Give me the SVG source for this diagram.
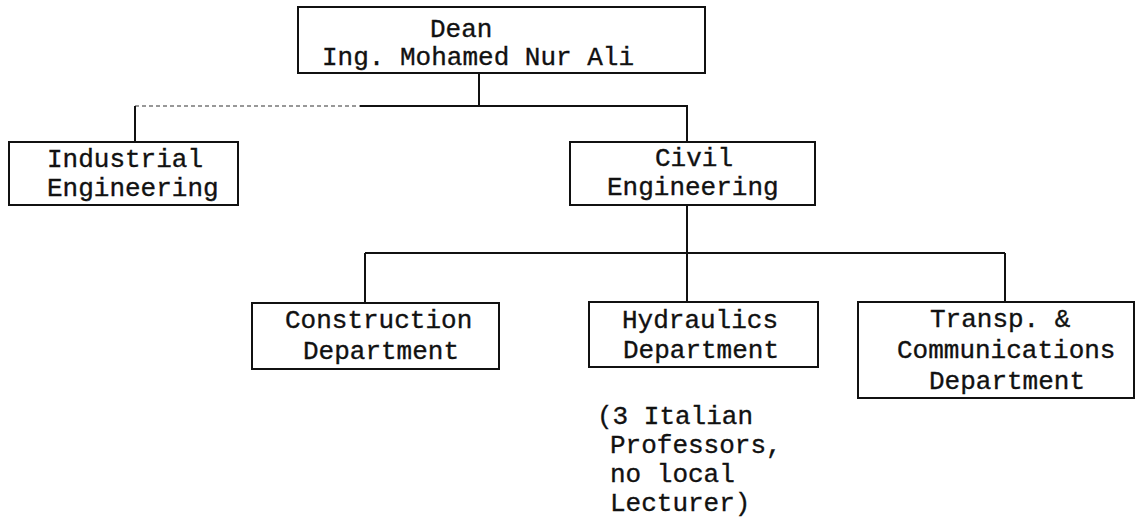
<svg xmlns="http://www.w3.org/2000/svg" width="1136" height="525" viewBox="0 0 1136 525">
<style>
.box{fill:#fff;stroke:#111;stroke-width:2}
.ln{fill:none;stroke:#111;stroke-width:2}
.faint{fill:none;stroke:#777;stroke-width:1.5;stroke-dasharray:4 3}
text{font-family:"Liberation Mono","Courier New",monospace;font-size:26px;fill:#111;stroke:#111;stroke-width:0.35}
</style>
<rect width="1136" height="525" fill="#fff"/>
<g id="connectors">
<path class="ln" d="M479 73V106"/>
<path class="faint" d="M135 106H360"/>
<path class="ln" d="M360 106H687V142"/>
<path class="ln" d="M135 106V142"/>
<path class="ln" d="M687 205V253"/>
<path class="ln" d="M365 253H1005"/>
<path class="ln" d="M365 253V303"/>
<path class="ln" d="M687 253V302"/>
<path class="ln" d="M1005 253V302"/>
</g>
<g id="dean">
<rect class="box" x="298" y="7" width="407" height="66"/>
<text x="430" y="37">Dean</text>
<text x="322" y="65">Ing. Mohamed Nur Ali</text>
</g>
<g id="industrial">
<rect class="box" x="9" y="142" width="229" height="63"/>
<text x="47" y="167">Industrial</text>
<text x="47" y="196">Engineering</text>
</g>
<g id="civil">
<rect class="box" x="570" y="142" width="245" height="63"/>
<text x="655" y="166">Civil</text>
<text x="607" y="195">Engineering</text>
</g>
<g id="construction">
<rect class="box" x="252" y="303" width="247" height="66"/>
<text x="285" y="328">Construction</text>
<text x="303" y="359">Department</text>
</g>
<g id="hydraulics">
<rect class="box" x="589" y="302" width="229" height="65"/>
<text x="622" y="328">Hydraulics</text>
<text x="623" y="358">Department</text>
</g>
<g id="transp">
<rect class="box" x="858" y="302" width="276" height="96"/>
<text x="930" y="327">Transp. &amp;</text>
<text x="897" y="358">Communications</text>
<text x="929" y="389">Department</text>
</g>
<g id="note">
<text x="597" y="424">(3 Italian</text>
<text x="610" y="453">Professors,</text>
<text x="610" y="482">no local</text>
<text x="610" y="511">Lecturer)</text>
</g>
</svg>
